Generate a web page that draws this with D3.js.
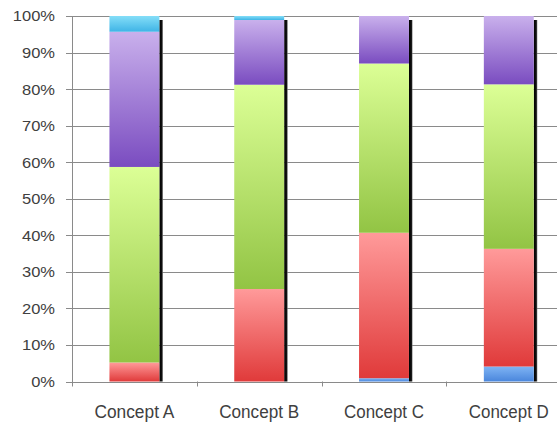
<!DOCTYPE html>
<html><head><meta charset="utf-8">
<script src="https://cdn.jsdelivr.net/npm/d3@7"></script>
<style>body{margin:0;background:#fff;}svg{display:block;}</style>
</head><body>
<svg id="c" width="557" height="423"></svg>
<script>
const categories = ["Concept A","Concept B","Concept C","Concept D"];
const seriesNames = ["Blue","Red","Green","Purple","Cyan"];
const blueVals   = [0, 0, 0.9, 4.1];
const redVals    = [5.2, 25.3, 39.8, 32.2];
const greenVals  = [53.5, 55.9, 46.3, 45.0];
const purpleVals = [37.0, 17.7, 13.0, 18.7];
const cyanVals   = [4.3, 1.1, 0, 0];
const yTicks = [0,10,20,30,40,50,60,70,80,90,100];

const gradColors = {
  Blue:   ["#7fb4f4","#4a86dc"],
  Red:    ["#ff9a9a","#e03a3a"],
  Green:  ["#dcff96","#92c444"],
  Purple: ["#c9b0ec","#7a4cc0"],
  Cyan:   ["#84def8","#3fb4e6"]
};
const valsBy = {Blue:blueVals, Red:redVals, Green:greenVals, Purple:purpleVals, Cyan:cyanVals};

const svg = d3.select("#c");
const x0 = 72, bandW = 124.8, yTop = 16, yBot = 381.5;
const x = d3.scaleBand().domain(categories).range([x0, x0 + bandW*4]).paddingInner(0.6).paddingOuter(0.3);
const y = d3.scaleLinear().domain([0,100]).range([yBot, yTop]);
const font = "'Liberation Sans',Arial,sans-serif";

const defs = svg.append("defs");
seriesNames.forEach(s => {
  const g = defs.append("linearGradient").attr("id","g"+s).attr("x1",0).attr("y1",0).attr("x2",0).attr("y2",1);
  g.append("stop").attr("offset","0%").attr("stop-color",gradColors[s][0]);
  g.append("stop").attr("offset","100%").attr("stop-color",gradColors[s][1]);
});
const sh = defs.append("linearGradient").attr("id","shadow").attr("x1",0).attr("x2",1).attr("y1",0).attr("y2",0);
sh.append("stop").attr("offset","0%").attr("stop-color","#000");
sh.append("stop").attr("offset","70%").attr("stop-color","#111");
sh.append("stop").attr("offset","100%").attr("stop-color","#777");

// gridlines
svg.append("g").selectAll("line").data(yTicks).join("line")
  .attr("x1", x0-6).attr("x2", 557)
  .attr("y1", d=>Math.round(y(d))+0.5).attr("y2", d=>Math.round(y(d))+0.5)
  .attr("stroke","#8a8a8a").attr("stroke-width",1);

// y axis line
svg.append("line").attr("x1",x0+0.5).attr("x2",x0+0.5).attr("y1",y(100)).attr("y2",y(0)+5)
  .attr("stroke","#8a8a8a");

// category separator ticks
svg.append("g").selectAll("line").data(d3.range(1,5)).join("line")
  .attr("x1", d=>Math.round(x0+bandW*d)+0.5).attr("x2", d=>Math.round(x0+bandW*d)+0.5)
  .attr("y1", y(0)).attr("y2", y(0)+5).attr("stroke","#8a8a8a");

// y labels
svg.append("g").selectAll("text").data(yTicks).join("text")
  .attr("x", 55).attr("y", d=>y(d)).attr("dy","0.36em")
  .attr("text-anchor","end")
  .attr("font-family",font)
  .attr("font-size",15).attr("fill","#404040")
  .text(d=>d+"%")
  .each(function(){ const w=this.getComputedTextLength(); d3.select(this).attr("textLength", w*1.1).attr("lengthAdjust","spacingAndGlyphs"); });

// stacked data
const rows = categories.map((c,i)=>{ const r={cat:c}; seriesNames.forEach(s=>r[s]=valsBy[s][i]); return r; });
const stack = d3.stack().keys(seriesNames)(rows);

// shadows
svg.append("g").selectAll("rect").data(categories).join("rect")
  .attr("x", d=>x(d)+x.bandwidth()).attr("width",3.5)
  .attr("y", y(100)+4).attr("height", y(0)-y(100)-4)
  .attr("fill","url(#shadow)");

svg.append("g").selectAll("g").data(stack).join("g")
  .attr("fill", d=>"url(#g"+d.key+")")
  .selectAll("rect").data(d=>d).join("rect")
  .attr("x", d=>x(d.data.cat)).attr("width", x.bandwidth())
  .attr("y", d=>y(d[1])).attr("height", d=>Math.max(0, y(d[0])-y(d[1])));

// category labels
svg.append("g").selectAll("text").data(categories).join("text")
  .attr("x", d=>x(d)+x.bandwidth()/2).attr("y", 418)
  .attr("text-anchor","middle")
  .attr("font-family",font)
  .attr("font-size",18).attr("fill","#404040")
  .attr("textLength",80).attr("lengthAdjust","spacingAndGlyphs")
  .text(d=>d);
</script>
</body></html>
